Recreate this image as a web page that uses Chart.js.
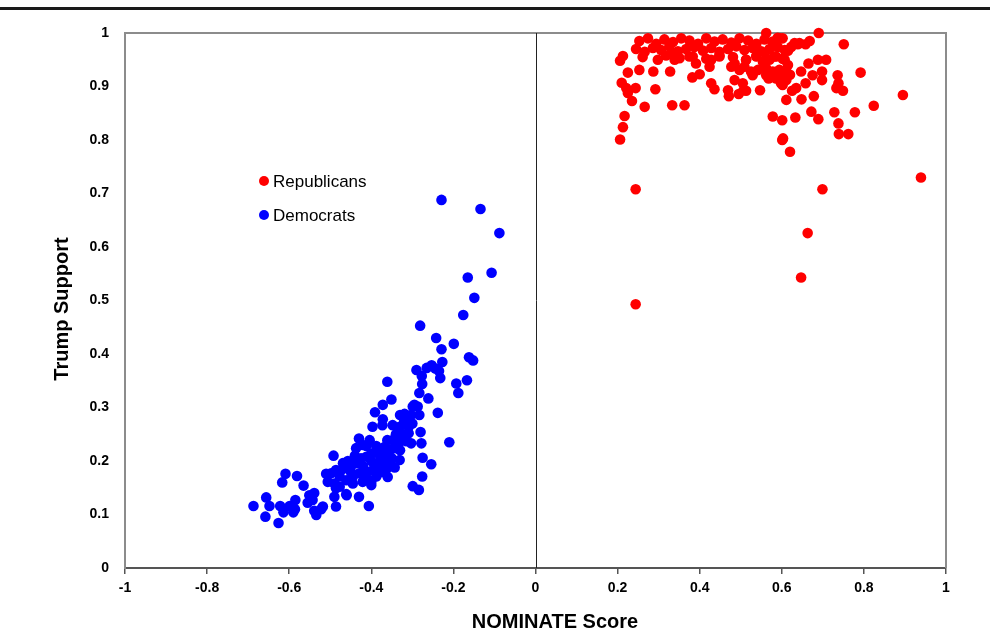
<!DOCTYPE html>
<html>
<head>
<meta charset="utf-8">
<script src="https://cdn.jsdelivr.net/npm/chart.js@4"></script>
<style>
  html, body { margin: 0; padding: 0; background: #ffffff; }
  #wrap { width: 993px; height: 636px; position: relative; }
</style>
</head>
<body>
<div id="wrap"><canvas id="c" width="993" height="636"></canvas></div>
<script>
// ---- Data ----
const seriesNames = ["Republicans", "Democrats"];

const repX = [0.244,0.699,0.939,0.663,0.647,0.244,0.690,0.751,0.562,0.895,0.824,0.792,0.778,0.728,0.738,0.739,0.762,0.620,0.603,0.601,
  0.601,0.578,0.633,0.672,0.689,0.611,0.648,0.678,0.625,0.635,0.658,0.647,0.665,0.688,0.708,0.675,0.698,0.698,0.736,0.738,
  0.733,0.749,0.658,0.639,0.623,0.615,0.213,0.206,0.225,0.253,0.287,0.328,0.210,0.221,0.225,0.244,0.235,0.266,0.292,0.333,
  0.363,0.217,0.213,0.206,0.382,0.400,0.428,0.436,0.469,0.471,0.495,0.507,0.513,0.485,0.505,0.547,0.568,0.598,0.602,0.477,
  0.509,0.525,0.542,0.562,0.578,0.594,0.611,0.620,0.424,0.428,0.448,0.391,0.375,0.339,0.334,
  0.253,0.274,0.294,0.314,0.335,0.355,0.375,0.396,0.416,0.436,0.456,0.477,0.497,0.518,0.538,0.558,0.578,0.595,
  0.245,0.266,0.286,0.306,0.326,0.347,0.367,0.387,0.408,0.428,0.448,0.469,0.489,0.509,0.529,0.550,0.570,0.590,0.607,
  0.261,0.298,0.318,0.351,0.383,0.416,0.448,0.481,0.513,0.538,0.562,0.582,0.602,
  0.513,0.538,0.554,0.570,0.586,0.607,0.615,0.529,0.562,0.586,0.611,0.497,0.485,0.602,0.615,0.631,0.643,0.668,0.602,0.590];
const repY = [0.708,0.708,0.730,0.626,0.543,0.493,1.000,0.979,1.000,0.884,0.864,0.926,0.852,0.852,0.831,0.811,0.811,0.778,0.803,0.800,
  0.837,0.844,0.842,0.853,0.839,0.875,0.876,0.882,0.892,0.897,0.906,0.928,0.943,0.950,0.950,0.921,0.928,0.912,0.921,0.906,
  0.897,0.892,0.979,0.979,0.974,0.967,0.957,0.948,0.926,0.931,0.928,0.928,0.907,0.897,0.888,0.897,0.873,0.862,0.895,0.865,
  0.865,0.845,0.824,0.801,0.917,0.923,0.906,0.895,0.893,0.882,0.886,0.893,0.892,0.912,0.906,0.893,0.915,0.906,0.918,0.937,
  0.937,0.928,0.931,0.934,0.928,0.931,0.928,0.922,0.937,0.950,0.956,0.943,0.956,0.950,0.962,
  0.985,0.990,0.980,0.988,0.983,0.990,0.986,0.980,0.990,0.984,0.988,0.982,0.990,0.986,0.980,0.988,0.984,0.990,
  0.970,0.965,0.972,0.968,0.975,0.966,0.970,0.974,0.967,0.972,0.965,0.970,0.975,0.968,0.972,0.966,0.970,0.974,0.968,
  0.955,0.950,0.958,0.953,0.956,0.952,0.958,0.955,0.950,0.957,0.953,0.956,0.952,
  0.950,0.956,0.946,0.950,0.956,0.950,0.940,0.921,0.921,0.915,0.912,0.931,0.943,0.903,0.968,0.981,0.981,0.985,0.990,0.991];

const demX = [-0.229,-0.134,-0.088,-0.165,-0.107,-0.149,-0.176,-0.281,-0.242,-0.229,-0.199,-0.227,-0.162,-0.152,-0.290,-0.265,-0.253,-0.244,-0.235,-0.277,
  -0.232,-0.193,-0.167,-0.276,-0.361,-0.283,-0.188,-0.351,-0.261,-0.372,-0.299,-0.287,-0.295,-0.330,-0.319,-0.303,-0.283,-0.238,-0.391,-0.372,
  -0.397,-0.373,-0.348,-0.331,-0.309,-0.280,-0.210,-0.430,-0.404,-0.361,-0.348,-0.331,-0.315,-0.303,-0.278,-0.437,-0.412,-0.388,-0.368,-0.356,
  -0.275,-0.254,-0.276,-0.492,-0.299,-0.284,-0.309,-0.421,
  -0.469,-0.457,-0.449,-0.437,-0.425,-0.412,-0.400,-0.388,-0.380,-0.368,-0.356,-0.343,-0.331,-0.343,-0.364,-0.376,-0.388,-0.400,-0.412,-0.429,
  -0.445,-0.461,-0.477,-0.486,-0.498,-0.510,-0.506,-0.490,-0.477,-0.486,-0.461,-0.490,-0.430,-0.486,-0.406,-0.445,-0.421,-0.396,-0.384,-0.372,
  -0.360,-0.352,
  -0.609,-0.581,-0.617,-0.565,-0.656,-0.687,-0.648,-0.658,-0.626,-0.622,-0.599,-0.586,-0.614,-0.590,-0.585,-0.551,-0.539,-0.555,-0.543,-0.539,
  -0.534,-0.518,-0.522,
  -0.420,-0.400,-0.390,-0.410,-0.370,-0.360,-0.450,-0.470,-0.440,-0.350,-0.330,-0.320,-0.340,-0.300,-0.320,-0.400,-0.460];
const demY = [0.688,0.671,0.626,0.543,0.552,0.505,0.473,0.453,0.430,0.409,0.419,0.385,0.394,0.388,0.370,0.374,0.379,0.373,0.368,0.359,
  0.355,0.345,0.351,0.344,0.348,0.327,0.327,0.315,0.317,0.305,0.302,0.302,0.305,0.286,0.288,0.286,0.286,0.290,0.291,0.278,
  0.264,0.267,0.267,0.264,0.264,0.254,0.235,0.242,0.239,0.239,0.239,0.236,0.237,0.233,0.233,0.224,0.228,0.228,0.226,0.218,
  0.206,0.194,0.171,0.210,0.153,0.146,0.252,0.230,
  0.196,0.200,0.191,0.196,0.205,0.208,0.214,0.217,0.211,0.217,0.221,0.224,0.202,0.188,0.184,0.179,0.171,0.161,0.168,0.177,
  0.171,0.164,0.171,0.183,0.177,0.176,0.161,0.158,0.152,0.149,0.138,0.133,0.133,0.115,0.116,0.158,0.161,0.183,0.196,0.202,
  0.205,0.191,
  0.176,0.172,0.160,0.154,0.132,0.116,0.116,0.096,0.084,0.116,0.116,0.110,0.104,0.104,0.127,0.136,0.140,0.122,0.127,0.107,
  0.099,0.115,0.110,
  0.190,0.200,0.185,0.180,0.190,0.170,0.180,0.185,0.210,0.205,0.220,0.250,0.250,0.270,0.275,0.155,0.136];

const xTickValues = [-1, -0.8, -0.6, -0.4, -0.2, 0, 0.2, 0.4, 0.6, 0.8, 1];
const yTickValues = [0, 0.1, 0.2, 0.3, 0.4, 0.5, 0.6, 0.7, 0.8, 0.9, 1];
const xTitle = "NOMINATE Score";
const yTitle = "Trump Support";

// ---- Build ----
const toPoints = (xs, ys) => xs.map((x, i) => ({ x: x, y: ys[i] }));
const FONT = "'Liberation Sans', Arial, Helvetica, sans-serif";

const decorPlugin = {
  id: 'decor',
  beforeDatasetsDraw(chart) {
    const { ctx, chartArea: a, scales } = chart;
    ctx.save();
    ctx.strokeStyle = '#8c8c8c';
    ctx.lineWidth = 2;
    ctx.beginPath();
    ctx.moveTo(a.left, a.top);
    ctx.lineTo(a.right, a.top);
    ctx.lineTo(a.right, a.bottom);
    ctx.stroke();
    const x0 = Math.round(scales.x.getPixelForValue(0)) + 0.5;
    ctx.strokeStyle = '#222222';
    ctx.lineWidth = 1;
    ctx.beginPath();
    ctx.moveTo(x0, a.top);
    ctx.lineTo(x0, a.bottom);
    ctx.stroke();
    ctx.restore();
  },
  afterDraw(chart) {
    const { ctx } = chart;
    ctx.save();
    // top rule
    ctx.fillStyle = '#1a1a1a';
    ctx.fillRect(0, 7, 990, 3);
    // axis titles
    ctx.fillStyle = '#000000';
    ctx.font = 'bold 20px ' + FONT;
    ctx.textAlign = 'center';
    ctx.textBaseline = 'middle';
    ctx.fillText(xTitle, 555, 622);
    ctx.save();
    ctx.translate(62, 309);
    ctx.rotate(-Math.PI / 2);
    ctx.fillText(yTitle, 0, 0);
    ctx.restore();
    // in-plot legend
    const items = chart.data.datasets;
    const lx = 264, ly = [181, 215];
    ctx.font = '17px ' + FONT;
    ctx.textAlign = 'left';
    items.forEach((ds, i) => {
      ctx.fillStyle = ds.backgroundColor;
      ctx.beginPath();
      ctx.arc(lx, ly[i], 5, 0, Math.PI * 2);
      ctx.fill();
      ctx.fillStyle = '#000000';
      ctx.fillText(ds.label, lx + 9, ly[i] + 1);
    });
    ctx.restore();
  }
};

new Chart(document.getElementById('c'), {
  type: 'scatter',
  data: {
    datasets: [
      { label: seriesNames[0], data: toPoints(repX, repY), backgroundColor: '#ff0000', borderWidth: 0, pointRadius: 5.3, pointHoverRadius: 5.3, clip: false },
      { label: seriesNames[1], data: toPoints(demX, demY), backgroundColor: '#0000ff', borderWidth: 0, pointRadius: 5.3, pointHoverRadius: 5.3, clip: false }
    ]
  },
  options: {
    responsive: false,
    animation: false,
    devicePixelRatio: 1,
    layout: { padding: { left: 0, top: 33, right: 47, bottom: 0 } },
    plugins: { legend: { display: false }, tooltip: { enabled: false } },
    scales: {
      x: {
        type: 'linear', min: -1, max: 1,
        afterFit(s) { s.height = 68; },
        afterBuildTicks(s) { s.ticks = xTickValues.map(v => ({ value: v })); },
        ticks: { color: '#000', font: { family: FONT, size: 14, weight: 'bold' }, padding: 6, maxRotation: 0,
                 callback: v => String(v) },
        grid: { display: true, drawOnChartArea: false, drawTicks: true, tickLength: 6, color: '#555555', lineWidth: 1.5 },
        border: { display: true, color: '#555555', width: 2 },
        title: { display: false, text: xTitle }
      },
      y: {
        type: 'linear', min: 0, max: 1,
        afterFit(s) { s.width = 125; },
        afterBuildTicks(s) { s.ticks = yTickValues.map(v => ({ value: v })); },
        ticks: { color: '#000', font: { family: FONT, size: 14, weight: 'bold' }, padding: 16,
                 callback: v => String(v) },
        grid: { display: false, drawTicks: false },
        border: { display: true, color: '#8c8c8c', width: 2 },
        title: { display: false, text: yTitle }
      }
    }
  },
  plugins: [decorPlugin]
});
</script>
</body>
</html>
